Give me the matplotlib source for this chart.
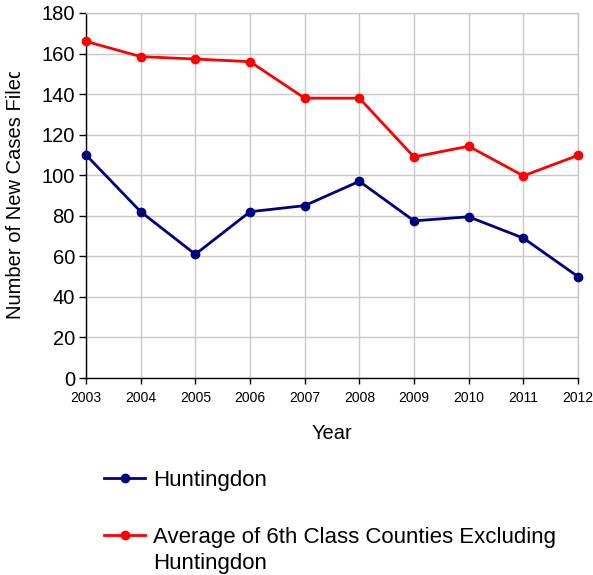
import matplotlib
matplotlib.use("Agg")
import matplotlib.pyplot as plt
from matplotlib.patches import Rectangle

years = [2003, 2004, 2005, 2006, 2007, 2008, 2009, 2010, 2011, 2012]
huntingdon = [110, 82, 61, 82, 85, 97, 77.5, 79.5, 69, 50]
average_6th = [166, 158.5, 157.3, 156, 138, 138, 109, 114.3, 99.7, 109.8]
series_labels = ["Huntingdon", "Average of 6th Class Counties Excluding", "Huntingdon"]
yticks = [0, 20, 40, 60, 80, 100, 120, 140, 160, 180]

plt.rcParams['font.family'] = ['Liberation Sans', 'DejaVu Sans']

W, H = 593, 575
fig = plt.figure(figsize=(W/100, H/100), dpi=100)
ax = fig.add_axes([86/W, 1-378/H, (578-86)/W, (378-13)/H])

l1, = ax.plot(years, huntingdon, color='#000080', lw=2, marker='o', ms=6, label=series_labels[0], clip_on=False, zorder=3)
l2, = ax.plot(years, average_6th, color='#ff0000', lw=2, marker='o', ms=6, label=series_labels[1], clip_on=False, zorder=3)

ax.set_xlim(2003, 2012)
ax.set_ylim(0, 180)
ax.set_xticks(years)
ax.set_yticks(yticks)
ax.grid(True, color='#c8c8c8', lw=1)
ax.set_axisbelow(True)
for s in ['top', 'right']:
    ax.spines[s].set_color('#c8c8c8')
    ax.spines[s].set_linewidth(1)
for s in ['left', 'bottom']:
    ax.spines[s].set_color('black')
    ax.spines[s].set_linewidth(1)
ax.tick_params(axis='y', labelsize=14.5, length=5, width=1, direction='out', pad=3)
ax.tick_params(axis='x', labelsize=10, length=4, width=1, direction='out', pad=5)

ax.set_xlabel("Year", fontsize=14.5, labelpad=14)
ylab = fig.text(16/W, 1-193/H, "Number of New Cases Filed", rotation=90, fontsize=14.5,
                ha='center', va='center')
clip_rect = Rectangle((0, 0), 1, 1 - 72/H, transform=fig.transFigure, visible=False)
fig.add_artist(clip_rect)
ylab.set_clip_path(clip_rect)

leg = fig.legend(handles=[l1, l2], labels=series_labels[:2], loc='upper left',
                 bbox_to_anchor=(104/W, 1-470/H),
                 frameon=False, fontsize=16, handlelength=1.85, handletextpad=0.35,
                 labelspacing=1.6, borderaxespad=0, borderpad=0)

fig.canvas.draw()
t2 = leg.get_texts()[1]
bb = t2.get_window_extent()
fig.text(bb.x0 / W, (bb.y0 - 26) / H, series_labels[2], fontsize=16, ha='left', va='bottom')

fig.savefig("out.png", dpi=100)
